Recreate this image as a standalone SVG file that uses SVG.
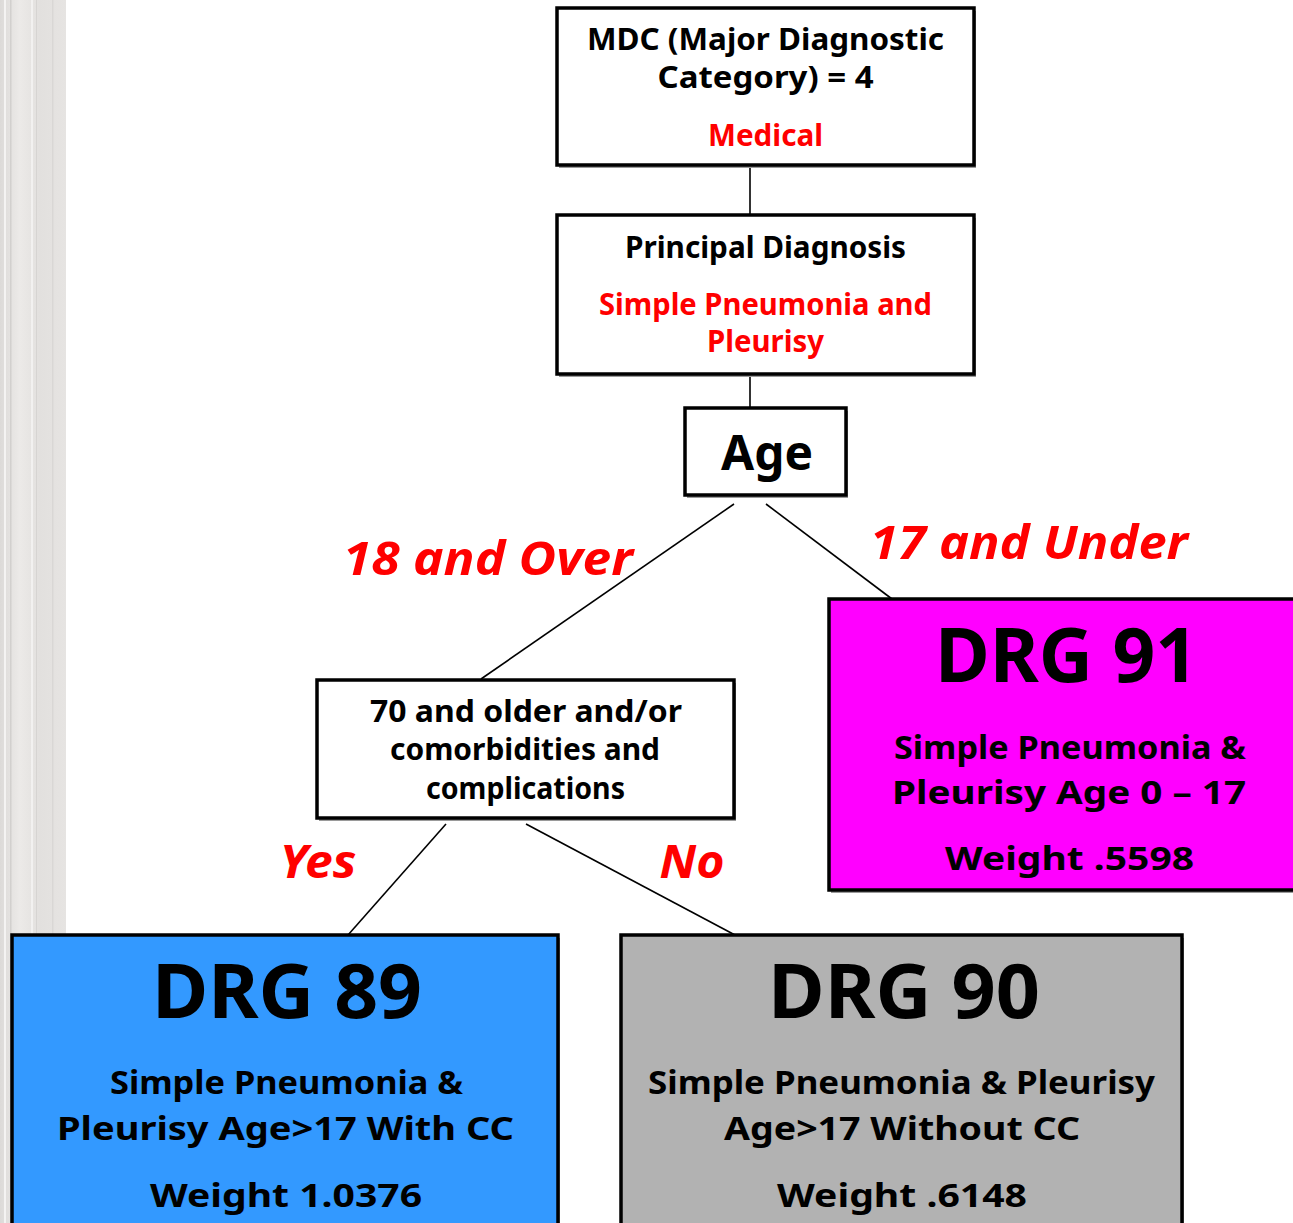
<svg xmlns="http://www.w3.org/2000/svg" width="1293" height="1223" viewBox="0 0 1293 1223">
<defs>
<linearGradient id="marble" x1="0" y1="0" x2="1" y2="0">
<stop offset="0" stop-color="#dcdad8"/>
<stop offset="0.3" stop-color="#eceae8"/>
<stop offset="0.6" stop-color="#e2e0de"/>
<stop offset="1" stop-color="#e6e4e2"/>
</linearGradient>
<style>
.box{stroke:#000;stroke-width:3.5}
.shadow{fill:#9a9a9a}
.conn{stroke:#000;stroke-width:1.6;fill:none}
text{font-family:"Noto Sans","DejaVu Sans",sans-serif;font-weight:700;text-anchor:middle}
.blk{fill:#000}
.red{fill:#ff0000}
.lbl{fill:#ff0000;font-style:italic;font-size:46px}
.t30{font-size:30px}
.big{font-size:76px}
.mid{font-size:32px}
</style>
</defs>
<rect width="1293" height="1223" fill="#ffffff"/>
<g id="background-strip">
<rect x="0" y="0" width="66" height="1223" fill="url(#marble)"/>
<rect x="4" y="0" width="2" height="1223" fill="#f4f3f2"/>
<rect x="10" y="0" width="1.5" height="1223" fill="#d2d0ce"/>
<rect x="31" y="0" width="2" height="1223" fill="#f2f1f0"/>
<rect x="36" y="0" width="1" height="1223" fill="#d6d4d2"/>
<rect x="52" y="0" width="1.5" height="1223" fill="#d9d7d5"/>
</g>
<g id="connectors">
<line class="conn" x1="750" y1="165" x2="750" y2="215"/>
<line class="conn" x1="750" y1="374" x2="750" y2="408"/>
<line class="conn" x1="734" y1="504" x2="481" y2="679"/>
<line class="conn" x1="766" y1="504" x2="892" y2="599"/>
<line class="conn" x1="446" y1="824" x2="348" y2="935"/>
<line class="conn" x1="526" y1="824" x2="735" y2="935"/>
</g>
<g id="labels">
<text class="lbl" x="488" y="575" textLength="290" lengthAdjust="spacingAndGlyphs">18 and Over</text>
<text class="lbl" x="1029" y="559" textLength="318" lengthAdjust="spacingAndGlyphs">17 and Under</text>
<text class="lbl" x="318" y="878" textLength="77" lengthAdjust="spacingAndGlyphs">Yes</text>
<text class="lbl" x="692" y="878" textLength="65" lengthAdjust="spacingAndGlyphs">No</text>
</g>
<g id="node-mdc">
<rect class="shadow" x="559" y="11" width="417" height="157"/>
<rect class="box" x="557" y="8" width="417" height="157" fill="#ffffff"/>
<text class="blk t30" x="765.5" y="50" textLength="357" lengthAdjust="spacingAndGlyphs">MDC (Major Diagnostic</text>
<text class="blk t30" x="765.5" y="88" textLength="216" lengthAdjust="spacingAndGlyphs">Category) = 4</text>
<text class="red t30" x="765.5" y="146" textLength="115" lengthAdjust="spacingAndGlyphs">Medical</text>
</g>
<g id="node-principal">
<rect class="shadow" x="559" y="218" width="417" height="159"/>
<rect class="box" x="557" y="215" width="417" height="159" fill="#ffffff"/>
<text class="blk t30" x="765.5" y="258" textLength="281" lengthAdjust="spacingAndGlyphs">Principal Diagnosis</text>
<text class="red t30" x="765.5" y="315" textLength="333" lengthAdjust="spacingAndGlyphs">Simple Pneumonia and</text>
<text class="red t30" x="765.5" y="352" textLength="117" lengthAdjust="spacingAndGlyphs">Pleurisy</text>
</g>
<g id="node-age">
<rect class="shadow" x="687" y="411" width="161" height="87"/>
<rect class="box" x="685" y="408" width="161" height="87" fill="#ffffff"/>
<text class="blk" x="767" y="470" font-size="48" textLength="92" lengthAdjust="spacingAndGlyphs">Age</text>
</g>
<g id="node-70older">
<rect class="shadow" x="319" y="683" width="417" height="138"/>
<rect class="box" x="317" y="680" width="417" height="138" fill="#ffffff"/>
<text class="blk t30" x="526" y="722" textLength="312" lengthAdjust="spacingAndGlyphs">70 and older and/or</text>
<text class="blk t30" x="525" y="760" textLength="270" lengthAdjust="spacingAndGlyphs">comorbidities and</text>
<text class="blk t30" x="525.5" y="799" textLength="199" lengthAdjust="spacingAndGlyphs">complications</text>
</g>
<g id="node-drg91">
<rect class="shadow" x="831" y="602" width="470" height="291"/>
<rect class="box" x="829" y="599" width="470" height="291" fill="#ff00ff"/>
<text class="blk big" x="1066.5" y="682" textLength="263" lengthAdjust="spacingAndGlyphs">DRG 91</text>
<text class="blk mid" x="1070" y="759" textLength="352" lengthAdjust="spacingAndGlyphs">Simple Pneumonia &amp;</text>
<text class="blk mid" x="1069" y="804" textLength="354" lengthAdjust="spacingAndGlyphs">Pleurisy Age 0 – 17</text>
<text class="blk mid" x="1069.5" y="870" textLength="249" lengthAdjust="spacingAndGlyphs">Weight .5598</text>
</g>
<g id="node-drg89">
<rect class="shadow" x="14" y="938" width="546" height="300"/>
<rect class="box" x="12" y="935" width="546" height="300" fill="#3399ff"/>
<text class="blk big" x="287" y="1018" textLength="270" lengthAdjust="spacingAndGlyphs">DRG 89</text>
<text class="blk mid" x="286.5" y="1094" textLength="353" lengthAdjust="spacingAndGlyphs">Simple Pneumonia &amp;</text>
<text class="blk mid" x="285.5" y="1140" textLength="457" lengthAdjust="spacingAndGlyphs">Pleurisy Age&gt;17 With CC</text>
<text class="blk mid" x="286" y="1207" textLength="272" lengthAdjust="spacingAndGlyphs">Weight 1.0376</text>
</g>
<g id="node-drg90">
<rect class="shadow" x="623" y="938" width="561" height="300"/>
<rect class="box" x="621" y="935" width="561" height="300" fill="#b2b2b2"/>
<text class="blk big" x="904" y="1018" textLength="272" lengthAdjust="spacingAndGlyphs">DRG 90</text>
<text class="blk mid" x="901.5" y="1094" textLength="507" lengthAdjust="spacingAndGlyphs">Simple Pneumonia &amp; Pleurisy</text>
<text class="blk mid" x="902" y="1140" textLength="356" lengthAdjust="spacingAndGlyphs">Age&gt;17 Without CC</text>
<text class="blk mid" x="902" y="1207" textLength="250" lengthAdjust="spacingAndGlyphs">Weight .6148</text>
</g>
</svg>
